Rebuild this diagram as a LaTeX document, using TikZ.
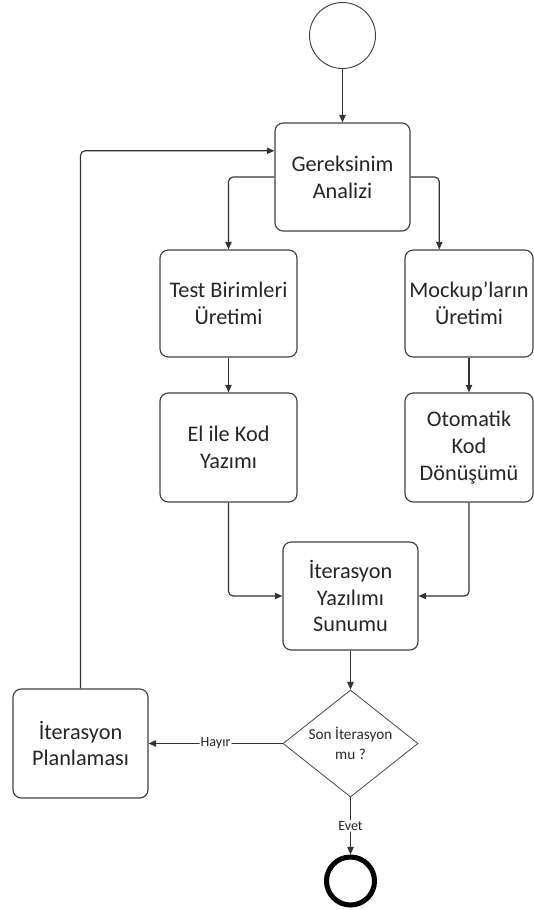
\documentclass[tikz,border=0pt]{standalone}
\usepackage{fontspec}
\setmainfont{Carlito}
\usetikzlibrary{shapes.geometric,arrows.meta,calc}

\tikzset{
  box/.style={draw=black!75, line width=1pt, rounded corners=7pt, align=center,
    inner sep=0pt, minimum width=4.05cm, minimum height=3.24cm,
    font=\fontsize{19}{23}\selectfont, text=black!85},
  flow/.style={draw=black!80, line width=1pt, rounded corners=4pt,
    -{Triangle[length=6.5pt,width=5.5pt]}},
  lbl/.style={fill=white, inner sep=1pt, font=\fontsize{12}{14}\selectfont, text=black!85},
}

\begin{document}
\begin{tikzpicture}[x=0.03cm, y=-0.03cm]
        \useasboundingbox (0,0) rectangle (534,910);
        % start / end events
        \node[circle, draw=black!75, line width=0.8pt, minimum size=1.98cm, inner sep=0pt] (start) at (342.5,35.5) {};
        \node[circle, draw=black, line width=4.3pt, minimum size=1.44cm, inner sep=0pt] (end) at (350.5,881) {};
        % activities
        \node[box] (ger) at (342.5,177) {Gereksinim\\Analizi};
        \node[box, minimum width=4.11cm, minimum height=3.21cm] (test) at (228.5,303.5) {Test Birimleri\\Üretimi};
        \node[box, minimum width=3.84cm, minimum height=3.21cm] (mock) at (469,303.5) {Mockup’ların\\Üretimi};
        \node[box, minimum width=4.11cm, minimum height=3.27cm] (elile) at (228.5,447.5) {El ile Kod\\Yazımı};
        \node[box, minimum width=3.84cm, minimum height=3.27cm] (oto) at (469,447.5) {Otomatik\\Kod\\Dönüşümü};
        \node[box] (sunum) at (350.5,596) {İterasyon\\Yazılımı\\Sunumu};
        \node[box, minimum height=3.27cm] (plan) at (80.5,743.5) {İterasyon\\Planlaması};
        % decision
        \node[diamond, draw=black!70, line width=0.7pt, minimum width=4.05cm, minimum height=3.21cm, inner sep=0pt] (dec) at (350.5,743.5) {};
        \node[align=center, inner sep=0pt, font=\fontsize{13}{17}\selectfont, text=black!85] (dectxt) at (dec) {Son İterasyon\\mu ?};
        % flows
        \draw[flow] (start) -- (ger);
        \draw[flow] (ger.west) -| (test.north);
        \draw[flow] (ger.east) -| ($(mock.north west)!0.27!(mock.north east)$);
        \draw[flow] (test) -- (elile);
        \draw[flow] (mock) -- (oto);
        \draw[flow] (elile.south) |- (sunum.west);
        \draw[flow] (oto.south) |- (sunum.east);
        \draw[flow] (sunum) -- (dec);
        \draw[flow] (dec.west) -- node[lbl] (hayir) {Hayır} (plan.east);
        \draw[flow] (plan.north) |- ($(ger.north west)!0.26!(ger.south west)$);
        \draw[flow] (dec.south) -- node[lbl] (evet) {Evet} (end);
\end{tikzpicture}
\end{document}
